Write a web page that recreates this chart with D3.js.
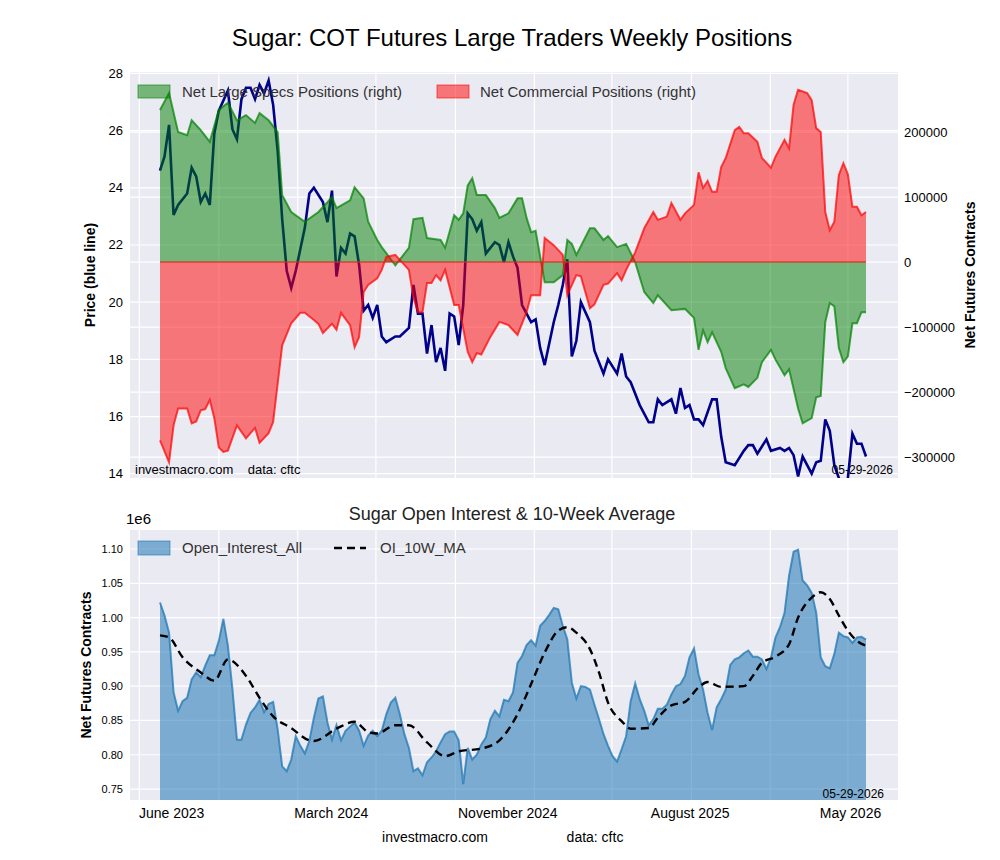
<!DOCTYPE html>
<html><head><meta charset="utf-8">
<script src="https://cdn.jsdelivr.net/npm/d3@7/dist/d3.min.js"></script>
<style>body{margin:0;background:#fff;font-family:"Liberation Sans",Arial,sans-serif}</style>
</head><body><svg id="c" width="1000" height="860"></svg>
<script>
// ---------- DATA ----------
const baseDate = "2023-06-02"; // week 0
const priceWeeks = [0,1,2,3,4,6,7,8,9,10,11,12,13,15,16,17,18,19,20,21,22,23,24,25,26,27,28,29,30,32,33,34,36,37,38,39,40,41,42,43,44,45,46,47,48,49,50,52,53,55,56,57,58,59,60,61,62,63,64,65,66,67,68,69,70,71,72,74,75,76,77,78,79,80,82,83,84,85,87,88,89,90,91,92,93,95,96,98,99,101,102,103,104,106,108,109,110,111,113,114,115,116,117,118,119,120,122,123,124,125,127,129,130,131,132,134,135,137,138,139,140,141,142,144,145,146,147,148,149,151,152,153,154,155,156];
const priceValues = [24.6,25.1,26.2,23.05,23.4,23.8,24.7,24.4,23.5,23.8,23.4,25.9,26.7,27.4,26.05,25.7,27.1,27.5,27.5,27.1,27.6,27.3,27.75,26.9,25.3,22.9,21.1,20.5,21.1,22.6,23.8,24.0,23.5,22.8,23.9,20.9,21.9,21.7,22.4,22.3,21.3,19.7,19.9,19.45,19.9,18.8,18.6,18.8,18.8,19.1,20.6,19.6,19.6,18.2,19.2,17.9,18.4,17.6,19.6,19.5,18.5,19.9,23.1,22.9,22.5,22.8,21.7,22.1,22.0,21.4,22.1,21.6,21.2,19.9,19.3,19.4,18.4,17.8,19.3,19.9,20.6,21.5,18.1,18.65,20.0,19.3,18.3,17.5,18.0,17.5,18.2,17.4,17.2,16.4,15.8,15.8,16.6,16.4,16.6,16.1,17.0,16.3,16.4,15.9,15.9,15.7,16.6,16.6,15.3,14.4,14.3,14.8,15.0,15.0,14.7,15.2,14.8,14.9,14.8,14.9,14.65,13.9,14.6,14.0,14.4,14.45,15.9,15.5,14.3,13.4,13.85,15.4,15.05,15.05,14.6];

const specWeeks = [0,2,4,6,7,9,11,13,15,17,19,21,22,24,26,27,29,32,35,37,38,39,42,43,45,46,48,49,52,55,56,58,59,62,63,65,66,67,68,69,70,72,74,75,77,79,80,81,82,83,85,87,89,90,91,92,95,96,98,99,101,103,105,107,109,110,113,116,118,119,120,121,122,124,125,127,129,130,132,133,135,136,138,139,141,142,144,145,146,147,148,149,150,151,152,153,154,155,156];
const specValues = [234000,260000,200000,195000,218000,203000,185000,234000,245000,218000,226000,214000,229000,218000,200000,103000,77000,62000,77000,92000,100000,83000,95000,115000,98000,62000,34000,23000,-5000,22000,66000,68000,37000,34000,22000,72000,65000,75000,118000,129000,103000,103000,83000,68000,75000,98000,98000,68000,46000,48000,-31000,-31000,-20000,34000,28000,11000,52000,52000,34000,40000,23000,28000,0,-46000,-63000,-51000,-74000,-72000,-86000,-135000,-105000,-123000,-108000,-138000,-163000,-194000,-188000,-192000,-178000,-154000,-135000,-150000,-174000,-165000,-225000,-248000,-240000,-208000,-206000,-92000,-63000,-68000,-132000,-154000,-145000,-94000,-94000,-77000,-77000];

const commWeeks = [0,2,3,4,6,7,8,9,10,11,12,13,14,15,17,19,21,22,24,25,27,29,31,32,34,35,36,38,39,40,42,43,44,45,46,48,49,50,52,55,56,57,58,59,60,61,62,63,65,66,68,69,70,71,73,75,77,79,81,82,84,85,87,89,90,92,93,95,96,98,99,101,102,103,105,107,109,110,112,113,115,116,118,119,120,121,122,123,124,125,127,128,129,130,132,133,135,136,138,139,140,141,143,144,145,146,147,148,149,150,151,152,153,154,155,156];
const commValues = [-274000,-308000,-251000,-225000,-225000,-248000,-245000,-228000,-226000,-212000,-240000,-285000,-292000,-290000,-251000,-271000,-255000,-278000,-263000,-246000,-128000,-94000,-78000,-78000,-89000,-95000,-109000,-95000,-104000,-78000,-97000,-131000,-115000,-46000,-35000,-25000,-12000,8000,11000,-12000,-55000,-77000,-77000,-32000,-32000,-20000,-28000,-12000,-66000,-66000,-138000,-154000,-140000,-142000,-115000,-92000,-97000,-112000,-77000,-51000,-51000,37000,26000,11000,-51000,-20000,-22000,-71000,-65000,-35000,-33000,-17000,-28000,-12000,15000,52000,77000,65000,70000,91000,65000,75000,88000,138000,114000,125000,108000,108000,146000,160000,203000,208000,198000,198000,185000,160000,145000,162000,188000,175000,242000,265000,260000,249000,206000,200000,77000,49000,62000,134000,152000,135000,85000,85000,72000,77000];

const openInterest = [1.022,1.003,.978,.891,.864,.878,.883,.910,.920,.913,.930,.945,.945,.966,.998,.959,.896,.822,.822,.844,.861,.869,.880,.862,.874,.877,.837,.783,.776,.793,.827,.813,.802,.820,.854,.882,.885,.847,.822,.843,.821,.835,.841,.847,.835,.813,.828,.835,.827,.835,.859,.876,.883,.859,.830,.810,.776,.780,.770,.789,.796,.805,.818,.830,.834,.834,.821,.757,.810,.793,.800,.815,.825,.852,.864,.856,.880,.878,.891,.934,.944,.960,.967,.959,.988,.995,1.004,1.014,1.012,.988,.968,.905,.882,.900,.899,.895,.873,.852,.830,.813,.798,.790,.808,.827,.878,.904,.881,.864,.843,.852,.867,.867,.873,.888,.900,.903,.915,.942,.955,.917,.895,.861,.836,.869,.881,.895,.931,.939,.942,.948,.952,.943,.943,.939,.925,.942,.971,.986,1.007,1.061,1.096,1.099,1.054,1.047,1.036,1.007,.942,.929,.926,.947,.978,.973,.971,.963,.971,.972,.968];

const maWeeks = [0,2,5,9,12,15,19,22,25,29,33,34,39,43,46,48,52,55,59,63,66,71,75,79,82,85,88,90,92,95,97,99,102,104,108,110,113,116,119,121,124,129,131,133,136,139,141,144,146,148,150,152,154,156];
const maValues = [.974,.971,.942,.920,.908,.939,.915,.883,.856,.839,.821,.820,.838,.848,.833,.831,.843,.843,.818,.798,.805,.809,.821,.859,.903,.949,.981,.986,.978,.954,.920,.876,.849,.838,.839,.854,.872,.877,.898,.906,.899,.900,.915,.934,.943,.961,1.000,1.029,1.037,1.027,1.003,.981,.966,.959];

const priceTicks = [14,16,18,20,22,24,26,28];
const netTicks = [-300000,-200000,-100000,0,100000,200000];
const oiTicks = [0.75,0.80,0.85,0.90,0.95,1.00,1.05,1.10];
const xLabels = [["2023-06-20","June 2023"],["2024-02-22","March 2024"],["2024-11-21","November 2024"],["2025-08-30","August 2025"],["2026-05-05","May 2026"]];

// ---------- DRAW ----------
const svg = d3.select("#c");
const DAY = 864e5;
const b0 = new Date(baseDate+"T00:00:00Z");
const wk = w => new Date(+b0 + w*7*DAY);
const pairs = (ws,vs) => ws.map((w,i)=>[w,vs[i]]).filter(d=>d[1]!==undefined);
const L=130,R=898;
const x = d3.scaleUtc().domain([new Date(+b0-46.4*DAY), new Date(+b0+1141.5*DAY)]).range([L,R]);
const gridDates = d3.utcMonth.every(4).range(new Date(Date.UTC(2023,4,1)), new Date(Date.UTC(2026,8,1)));

const T={top:72,bot:478}, B={top:530,bot:800};
const yP = d3.scaleLinear().domain([13.85,28.05]).range([T.bot,T.top]);
const yN = d3.scaleLinear().domain([-332000,292300]).range([T.bot,T.top]);
const yO = d3.scaleLinear().domain([0.734,1.1277]).range([B.bot,B.top]);

svg.append("text").attr("x",512).attr("y",46).attr("text-anchor","middle").attr("font-size",24).text("Sugar: COT Futures Large Traders Weekly Positions");

function panel(P,id){
  svg.append("rect").attr("x",L).attr("y",P.top).attr("width",R-L).attr("height",P.bot-P.top).attr("fill","#eaeaf2");
  svg.append("clipPath").attr("id",id).append("rect").attr("x",L).attr("y",P.top).attr("width",R-L).attr("height",P.bot-P.top);
  svg.append("g").selectAll("line").data(gridDates.filter(d=>x(d)>=L&&x(d)<=R)).join("line")
    .attr("x1",d=>x(d)).attr("x2",d=>x(d)).attr("y1",P.top).attr("y2",P.bot).attr("stroke","#fff").attr("stroke-width",1.2);
}
function hgrid(scale,ticks){
  svg.append("g").selectAll("line").data(ticks).join("line").attr("x1",L).attr("x2",R)
    .attr("y1",d=>scale(d)).attr("y2",d=>scale(d)).attr("stroke","#fff").attr("stroke-width",1.2);
}
// top panel
panel(T,"ct");
hgrid(yP,priceTicks); hgrid(yN,netTicks);
const gT = svg.append("g").attr("clip-path","url(#ct)");
gT.append("path").datum(pairs(priceWeeks,priceValues))
  .attr("d",d3.line().x(d=>x(wk(d[0]))).y(d=>yP(d[1]))).attr("fill","none").attr("stroke","#00008b").attr("stroke-width",2.6);
function netArea(ws,vs,col){
  const dat=pairs(ws,vs);
  gT.append("path").datum(dat).attr("d",d3.area().x(d=>x(wk(d[0]))).y0(yN(0)).y1(d=>yN(d[1])))
    .attr("fill",col).attr("fill-opacity",0.5);
  gT.append("path").datum(dat).attr("d",d3.line().x(d=>x(wk(d[0]))).y(d=>yN(d[1])))
    .attr("fill","none").attr("stroke",col).attr("stroke-opacity",0.7).attr("stroke-width",2);
}
netArea(specWeeks,specValues,"green");
netArea(commWeeks,commValues,"red");
gT.append("line").attr("x1",x(wk(0))).attr("x2",x(wk(156))).attr("y1",yN(0)).attr("y2",yN(0)).attr("stroke","#d03020").attr("stroke-width",1.5).attr("stroke-opacity",0.8);

const fmtN = d3.format("d");
svg.append("g").selectAll("text").data(priceTicks).join("text").attr("x",L-7).attr("y",d=>yP(d)+4.5)
  .attr("text-anchor","end").attr("font-size",13).text(d=>d);
svg.append("g").selectAll("text").data(netTicks).join("text").attr("x",R+6).attr("y",d=>yN(d)+4.5)
  .attr("font-size",13).text(d=>fmtN(d));
svg.append("text").attr("transform",`translate(95,${(T.top+T.bot)/2}) rotate(-90)`).attr("text-anchor","middle")
  .attr("font-size",14).attr("font-weight","bold").text("Price (blue line)");
svg.append("text").attr("transform",`translate(975,${(T.top+T.bot)/2}) rotate(-90)`).attr("text-anchor","middle")
  .attr("font-size",14).attr("font-weight","bold").text("Net Futures Contracts");
svg.append("text").attr("x",135).attr("y",474).attr("font-size",13).attr("xml:space","preserve").text("investmacro.com    data: cftc");
svg.append("text").attr("x",893).attr("y",474).attr("text-anchor","end").attr("font-size",12).text("05-29-2026");
// top legend
[[138,"green","Net Large Specs Positions (right)",182],[437,"red","Net Commercial Positions (right)",480]].forEach(([lx,c,t,tx])=>{
  svg.append("rect").attr("x",lx).attr("y",85).attr("width",32).attr("height",13).attr("fill",c).attr("fill-opacity",0.5).attr("stroke",c).attr("stroke-opacity",0.6);
  svg.append("text").attr("x",tx).attr("y",97).attr("font-size",15).attr("fill","#333").text(t);
});

// bottom panel
panel(B,"cb");
hgrid(yO,oiTicks);
const gB = svg.append("g").attr("clip-path","url(#cb)");
const oiDat = openInterest.map((v,i)=>[i,v]);
gB.append("path").datum(oiDat).attr("d",d3.area().x(d=>x(wk(d[0]))).y0(B.bot+5).y1(d=>yO(d[1])))
  .attr("fill","#1f77b4").attr("fill-opacity",0.55);
gB.append("path").datum(oiDat).attr("d",d3.line().x(d=>x(wk(d[0]))).y(d=>yO(d[1])))
  .attr("fill","none").attr("stroke","#1f77b4").attr("stroke-opacity",0.75).attr("stroke-width",2);
gB.append("path").datum(pairs(maWeeks,maValues))
  .attr("d",d3.line().curve(d3.curveMonotoneX).x(d=>x(wk(d[0]))).y(d=>yO(d[1])))
  .attr("fill","none").attr("stroke","#000").attr("stroke-width",2.4).attr("stroke-dasharray","8,5");
svg.append("g").selectAll("text").data(oiTicks).join("text").attr("x",L-7).attr("y",d=>yO(d)+4)
  .attr("text-anchor","end").attr("font-size",11).text(d=>d.toFixed(2));
svg.append("text").attr("x",126).attr("y",524).attr("font-size",15).text("1e6");
svg.append("text").attr("x",512).attr("y",520).attr("text-anchor","middle").attr("font-size",18).attr("fill","#222").text("Sugar Open Interest & 10-Week Average");
svg.append("text").attr("transform",`translate(91,${(B.top+B.bot)/2}) rotate(-90)`).attr("text-anchor","middle")
  .attr("font-size",14).attr("font-weight","bold").text("Net Futures Contracts");
svg.append("text").attr("x",884).attr("y",798).attr("text-anchor","end").attr("font-size",12).text("05-29-2026");
svg.append("g").selectAll("text").data(xLabels).join("text").attr("x",d=>x(new Date(d[0]+"T00:00:00Z"))).attr("y",818)
  .attr("text-anchor","middle").attr("font-size",14).text(d=>d[1]);
svg.append("rect").attr("x",138).attr("y",541).attr("width",32).attr("height",14).attr("fill","#1f77b4").attr("fill-opacity",0.55).attr("stroke","#1f77b4").attr("stroke-opacity",0.6);
svg.append("text").attr("x",182).attr("y",553).attr("font-size",15).attr("fill","#333").text("Open_Interest_All");
svg.append("line").attr("x1",334).attr("x2",366).attr("y1",548).attr("y2",548).attr("stroke","#000").attr("stroke-width",2.4).attr("stroke-dasharray","8,5");
svg.append("text").attr("x",380).attr("y",553).attr("font-size",15).attr("fill","#333").text("OI_10W_MA");
svg.append("text").attr("x",435).attr("y",842).attr("text-anchor","middle").attr("font-size",14).text("investmacro.com");
svg.append("text").attr("x",595).attr("y",842).attr("text-anchor","middle").attr("font-size",14).text("data: cftc");
</script></body></html>
